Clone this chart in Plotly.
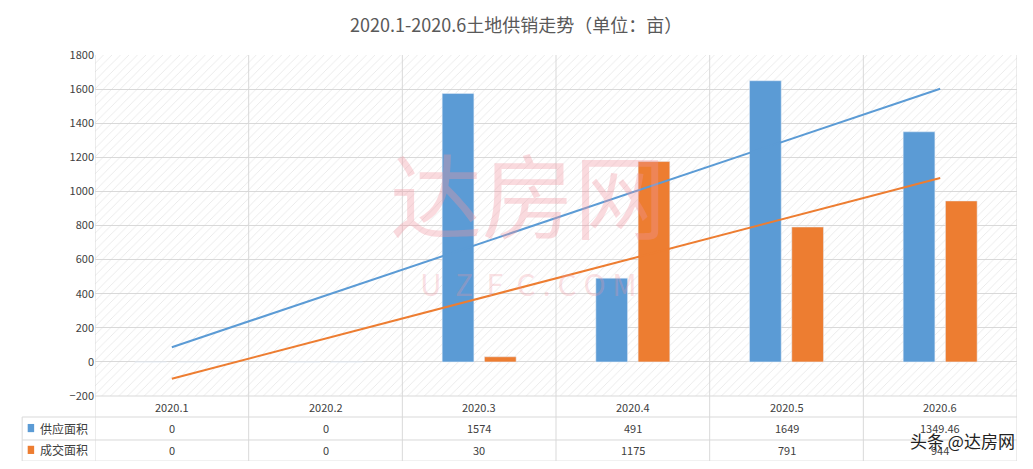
import plotly.graph_objects as go
import numpy as np

categories = ["2020.1", "2020.2", "2020.3", "2020.4", "2020.5", "2020.6"]
supply = [0, 0, 1574, 491, 1649, 1349.46]
deals = [0, 0, 30, 1175, 791, 944]
supply_labels = ["0", "0", "1574", "491", "1649", "1349.46"]
deals_labels = ["0", "0", "30", "1175", "791", "944"]
yticks = list(range(-200, 1801, 200))

BLUE = "#5b9bd5"; ORANGE = "#ed7d31"; GRID = "#d9d9d9"; TXT = "#404040"
xi = np.arange(len(categories))

fig = go.Figure()
# hatched background
fig.add_trace(go.Bar(x=xi, y=[2000]*6, base=-200, width=1, xaxis="x", yaxis="y",
                     marker=dict(color="rgba(0,0,0,0)", line_width=0,
                                 pattern=dict(shape="/", fgcolor="#d4d4d4", bgcolor="rgba(0,0,0,0)", size=6, solidity=0.15)),
                     hoverinfo="skip", showlegend=False))
fig.add_trace(go.Bar(x=xi, y=supply, name="供应面积", marker_color=BLUE, showlegend=False, xaxis="x2"))
fig.add_trace(go.Bar(x=xi, y=deals, name="成交面积", marker_color=ORANGE, showlegend=False, xaxis="x2"))
for ys, c in [(supply, BLUE), (deals, ORANGE)]:
    k, b = np.polyfit(xi, ys, 1)
    fig.add_trace(go.Scatter(x=xi, y=k*xi+b, mode="lines", line=dict(color=c, width=2), showlegend=False, xaxis="x2"))

shapes = []
for i in range(7):
    shapes.append(dict(type="line", xref="x", yref="paper", x0=i-0.5, x1=i-0.5, y0=-0.191, y1=1,
                       line=dict(color=GRID, width=1), layer="below"))
for yp in [0, -0.0616, -0.129, -0.191]:
    shapes.append(dict(type="line", xref="paper", yref="paper", x0=-0.079 if yp != 0 else 0, x1=1, y0=yp, y1=yp,
                       line=dict(color=GRID, width=1)))
shapes.append(dict(type="line", xref="paper", yref="paper", x0=-0.079, x1=-0.079, y0=-0.0616, y1=-0.191,
                   line=dict(color=GRID, width=1)))
for yp, c in [(-0.094, BLUE), (-0.158, ORANGE)]:
    shapes.append(dict(type="rect", xref="paper", yref="paper", x0=-0.073, x1=-0.066, y0=yp-0.012, y1=yp+0.012,
                       fillcolor=c, line_width=0))

ann = []
def a(**kw):
    kw.setdefault("showarrow", False); kw.setdefault("yanchor", "middle")
    ann.append(kw)
for i, c in enumerate(categories):
    a(x=i, y=-0.032, xref="x", yref="paper", text=c, font=dict(size=11, color=TXT))
    a(x=i, y=-0.094, xref="x", yref="paper", text=supply_labels[i], font=dict(size=11, color=TXT))
    a(x=i, y=-0.158, xref="x", yref="paper", text=deals_labels[i], font=dict(size=11, color=TXT))
for yp, t in [(-0.094, "供应面积"), (-0.158, "成交面积")]:
    a(x=-0.062, y=yp, xref="paper", yref="paper", text=t, xanchor="left", font=dict(size=12, color=TXT))
a(x=0.457, y=1.09, xref="paper", yref="paper", text="2020.1-2020.6土地供销走势（单位：亩）",
  font=dict(size=18, color="#595959"))
a(x=0.47, y=0.6, xref="paper", yref="paper", text="达房网", font=dict(size=92, color="rgba(240,150,160,0.35)"))
a(x=0.47, y=0.33, xref="paper", yref="paper", text="U  Z  F  C . C O M", font=dict(size=30, color="rgba(240,150,160,0.3)"))
a(x=1.0, y=-0.13, xref="paper", yref="paper", text="头条 @达房网", xanchor="right", font=dict(size=17, color="#222"))

fig.update_layout(
    width=1017, height=453, margin=dict(l=87, r=8, t=47, b=65),
    paper_bgcolor="white", plot_bgcolor="white",
    font=dict(family="Noto Sans CJK SC, sans-serif", color=TXT),
    barmode="group", bargap=0.45, bargroupgap=0.25,
    xaxis=dict(range=[-0.5, 5.5], showticklabels=False, showgrid=False, zeroline=False),
    xaxis2=dict(range=[-0.5, 5.5], overlaying="x", visible=False),
    yaxis=dict(range=[-200, 1800], tickvals=yticks, showgrid=True, gridcolor=GRID, zeroline=False,
               tickfont=dict(size=11, color=TXT), ticks="", automargin=False),
    shapes=shapes, annotations=ann,
)
fig.write_html("out.html")
